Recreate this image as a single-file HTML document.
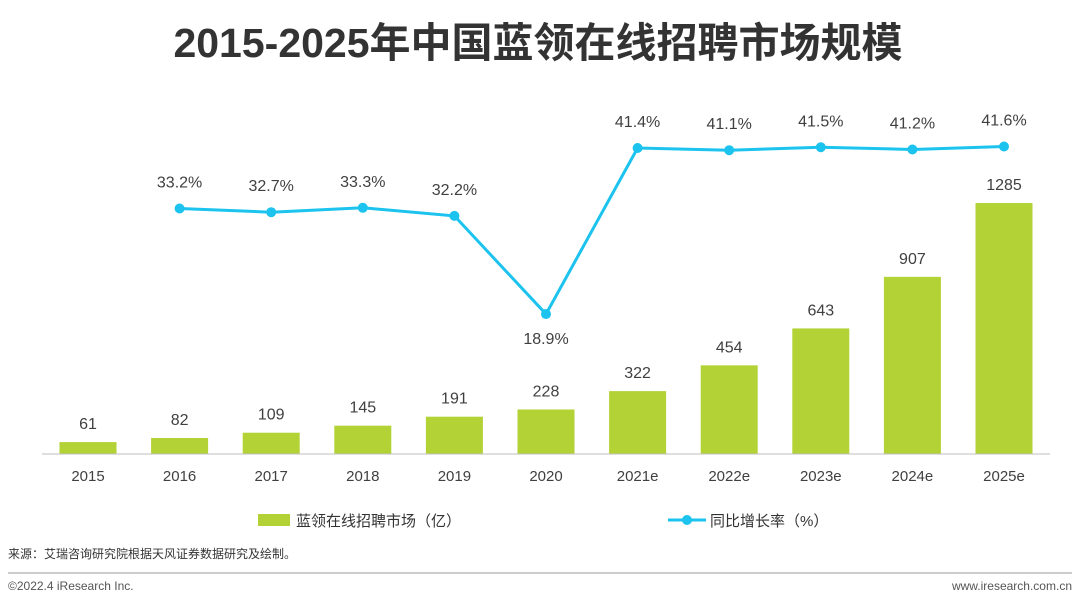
<!DOCTYPE html>
<html><head><meta charset="utf-8"><style>
body{margin:0;background:#fff;width:1080px;height:608px;overflow:hidden;font-family:"Liberation Sans","Noto Sans CJK SC",sans-serif;}
</style></head><body>
<svg width="1080" height="608" xmlns="http://www.w3.org/2000/svg" font-family="Liberation Sans, Noto Sans CJK SC, sans-serif">
<text x="538" y="57" text-anchor="middle" font-size="41" font-weight="bold" fill="#333">2015-2025年中国蓝领在线招聘市场规模</text>
<g id="bars"></g>
<line x1="42" y1="454" x2="1050" y2="454" stroke="#bfbfbf" stroke-width="1"/>
<g id="xlabels"></g>
<g id="line"></g>
<g><rect x="258" y="514" width="32" height="12" fill="#b2d235"/><text x="296" y="526" font-size="15" fill="#333">蓝领在线招聘市场（亿）</text></g>
<g><line x1="668" y1="520" x2="706" y2="520" stroke="#1bc3ee" stroke-width="3"/><circle cx="687" cy="520" r="5" fill="#1bc3ee"/><text x="710" y="526" font-size="15" fill="#333">同比增长率（%）</text></g>
<text x="8" y="558" font-size="12" fill="#333">来源：艾瑞咨询研究院根据天风证券数据研究及绘制。</text>
<line x1="8" y1="573" x2="1072" y2="573" stroke="#999" stroke-width="1"/>
<text x="8" y="590" font-size="12" fill="#555">©2022.4 iResearch Inc.</text>
<text x="1072" y="590" font-size="12" fill="#555" text-anchor="end">www.iresearch.com.cn</text>
</svg>
<script>
const categories=["2015","2016","2017","2018","2019","2020","2021e","2022e","2023e","2024e","2025e"];
const marketSize=[61,82,109,145,191,228,322,454,643,907,1285];
const growthRate=[null,33.2,32.7,33.3,32.2,18.9,41.4,41.1,41.5,41.2,41.6];
const growthLabels=["","33.2%","32.7%","33.3%","32.2%","18.9%","41.4%","41.1%","41.5%","41.2%","41.6%"];
const NS="http://www.w3.org/2000/svg";
const xPos=i=>88+i*91.6;
const yBar=v=>454-v*0.1953;
const yLine=v=>148+(41.4-v)*7.38;
function mk(t,a,p){const e=document.createElementNS(NS,t);for(const k in a)e.setAttribute(k,a[k]);p.appendChild(e);return e;}
const gb=document.getElementById('bars'),gx=document.getElementById('xlabels'),gl=document.getElementById('line');
categories.forEach((c,i)=>{
 const x=xPos(i),y=yBar(marketSize[i]);
 const r=mk('rect',{x:x-28.5,y:y,width:57,height:454-y,fill:'#b2d235'},gb);
 
 
 const t=mk('text',{x:x,y:y-13,'text-anchor':'middle','font-size':16,fill:'#404040'},gb);t.textContent=marketSize[i];
 
 
 const l=mk('text',{x:x,y:481,'text-anchor':'middle','font-size':15,fill:'#404040'},gx);l.textContent=c;
 
 
});
let pts=[];
growthRate.forEach((v,i)=>{if(v!==null)pts.push([xPos(i),yLine(v),i]);});
const pl=mk('polyline',{points:pts.map(p=>p[0]+','+p[1]).join(' '),fill:'none',stroke:'#1bc3ee','stroke-width':3},gl);


pts.forEach(p=>{
 const c=mk('circle',{cx:p[0],cy:p[1],r:5,fill:'#1bc3ee'},gl);
 
 
 const below=growthRate[p[2]]<25;
 const t=mk('text',{x:p[0],y:below?p[1]+30:p[1]-21,'text-anchor':'middle','font-size':16,fill:'#404040'},gl);
 t.textContent=growthLabels[p[2]];
 
 
});
</script>
</body></html>
